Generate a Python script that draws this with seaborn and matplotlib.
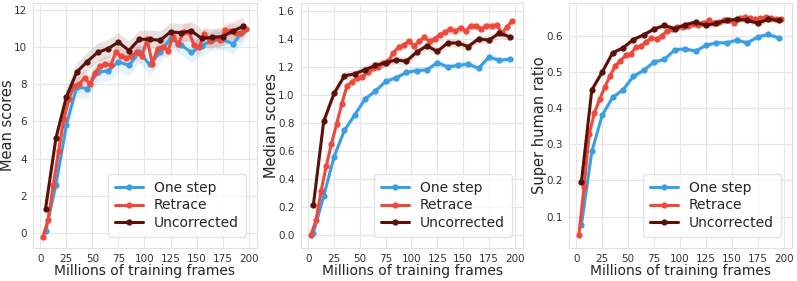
import matplotlib
matplotlib.use('Agg')
import matplotlib.pyplot as plt
import seaborn as sns
import numpy as np
import pandas as pd

# x positions (millions of frames)
x_sparse = [5, 15, 25, 35, 45, 55, 65, 75, 85, 95, 105, 115, 125, 135, 145, 155, 165, 175, 185, 195]
x_dense = [2.5, 7.5, 12.5, 17.5, 22.5, 27.5, 32.5, 37.5, 42.5, 47.5, 52.5, 57.5, 62.5, 67.5, 72.5,
           77.5, 82.5, 87.5, 92.5, 97.5, 102.5, 107.5, 112.5, 117.5, 122.5, 127.5, 132.5, 137.5,
           142.5, 147.5, 152.5, 157.5, 162.5, 167.5, 172.5, 177.5, 182.5, 187.5, 192.5, 197.5]

series_names = ['One step', 'Retrace', 'Uncorrected']

# mean scores
mean_onestep = [0.1, 2.6, 5.8, 7.85, 7.75, 8.65, 8.7, 9.2, 9.0, 9.7, 9.05, 9.7, 10.45, 10.1, 9.7,
                10.05, 10.35, 10.4, 10.15, 10.85]
mean_retrace = [-0.2, 0.7, 2.6, 4.4, 6.1, 7.2, 7.9, 8.0, 8.35, 8.0, 8.6, 8.95, 9.1, 9.0, 9.7, 9.5,
                9.4, 9.5, 9.7, 9.5, 10.4, 9.1, 9.9, 10.0, 9.8, 10.55, 10.15, 10.8, 10.8, 10.1, 10.0,
                10.7, 10.3, 10.45, 10.35, 10.9, 10.85, 10.75, 10.75, 10.95]
mean_uncorr = [1.3, 5.1, 7.3, 8.65, 9.2, 9.7, 9.9, 10.25, 9.8, 10.4, 10.4, 10.35, 10.8, 10.75, 10.85,
               10.45, 10.5, 10.55, 10.85, 11.1]

# median scores
median_onestep = [0.02, 0.28, 0.56, 0.747, 0.858, 0.971, 1.028, 1.096, 1.122, 1.16, 1.174, 1.178,
                  1.23, 1.20, 1.21, 1.22, 1.19, 1.27, 1.247, 1.254]
median_retrace = [0.0, 0.108, 0.318, 0.495, 0.653, 0.794, 0.936, 1.065, 1.093, 1.12, 1.13, 1.16,
                  1.19, 1.20, 1.225, 1.24, 1.30, 1.34, 1.355, 1.383, 1.35, 1.383, 1.41, 1.383, 1.40,
                  1.43, 1.447, 1.47, 1.455, 1.478, 1.455, 1.494, 1.49, 1.473, 1.494, 1.49, 1.50,
                  1.44, 1.485, 1.53]
median_uncorr = [0.216, 0.813, 1.011, 1.136, 1.15, 1.18, 1.21, 1.23, 1.25, 1.24, 1.305, 1.35, 1.31,
                 1.37, 1.37, 1.345, 1.40, 1.39, 1.44, 1.415]

# super human ratio
super_onestep = [0.077, 0.28, 0.38, 0.429, 0.45, 0.487, 0.504, 0.527, 0.534, 0.561, 0.563, 0.557,
                 0.573, 0.58, 0.58, 0.587, 0.58, 0.596, 0.603, 0.594]
super_retrace = [0.048, 0.182, 0.328, 0.386, 0.424, 0.458, 0.488, 0.516, 0.53, 0.545, 0.55, 0.568,
                 0.571, 0.582, 0.594, 0.59, 0.60, 0.612, 0.618, 0.624, 0.624, 0.627, 0.633, 0.63,
                 0.634, 0.642, 0.634, 0.638, 0.642, 0.642, 0.636, 0.648, 0.65, 0.648, 0.645, 0.648,
                 0.65, 0.648, 0.645, 0.645]
super_uncorr = [0.196, 0.45, 0.499, 0.552, 0.566, 0.589, 0.602, 0.618, 0.628, 0.619, 0.63, 0.637,
                0.628, 0.634, 0.642, 0.645, 0.642, 0.634, 0.645, 0.642]

# half-width of the shaded bands (one step, retrace, uncorrected)
mean_spread = [0.55, 0.45, 0.5]
median_spread = [0.025, 0.03, 0.03]
super_spread = [0.008, 0.008, 0.008]

colors = ['#3b9ee3', '#ec4a3c', '#5a1109']

sns.set_style('whitegrid', {'grid.color': '#e6e6e6', 'axes.edgecolor': '#e0e0e0'})
plt.rcParams['font.family'] = ['DejaVu Sans']

fig = plt.figure(figsize=(7.97, 2.81), dpi=100)
# axes boxes in pixels: left, right, and x of the y-label (pixels)
boxes = [(33, 257, 15), (301, 523, 279), (569, 792, 547)]
axes_h = 245
axes = [fig.add_axes([l / 797, 33 / 281, (r - l) / 797, axes_h / 281]) for l, r, _ in boxes]

panels = [
    ('Mean scores', [mean_onestep, mean_retrace, mean_uncorr], mean_spread, (-0.8, 12.35),
     [0, 2, 4, 6, 8, 10, 12], None),
    ('Median scores', [median_onestep, median_retrace, median_uncorr], median_spread, (-0.09, 1.655),
     [0.0, 0.2, 0.4, 0.6, 0.8, 1.0, 1.2, 1.4, 1.6], '{:.1f}'),
    ('Super human ratio', [super_onestep, super_retrace, super_uncorr], super_spread, (0.013, 0.69),
     [0.1, 0.2, 0.3, 0.4, 0.5, 0.6], '{:.1f}'),
]

for ax, box, (ylabel, vals, spread, ylim, yticks, fmt) in zip(axes, boxes, panels):
    xs = [x_sparse, x_dense, x_sparse]
    frames = []
    for name, x, v in zip(series_names, xs, vals):
        frames.append(pd.DataFrame({'frames': x, 'value': v, 'method': name}))
    df = pd.concat(frames, ignore_index=True)
    for name, x, v, s, c in zip(series_names, xs, vals, spread, colors):
        v = np.array(v)
        ax.fill_between(x, v - s, v + s, color=c, alpha=0.12, linewidth=0)
    sns.lineplot(data=df, x='frames', y='value', hue='method', palette=colors,
                 hue_order=series_names, marker='o', markersize=4.5, markeredgewidth=0,
                 linewidth=2.2, ax=ax, errorbar=None)
    ax.set_xlim(-7, 208)
    ax.set_ylim(*ylim)
    ax.set_xticks([0, 25, 50, 75, 100, 125, 150, 175, 200])
    ax.set_yticks(yticks)
    if fmt:
        ax.set_yticklabels([fmt.format(t) for t in yticks])
    ax.tick_params(labelsize=7.5, colors='#333333', pad=1)
    ax.set_xlabel('Millions of training frames', fontsize=10)
    ax.set_ylabel(ylabel, fontsize=10.5)
    # place labels where the reference has them
    ax.xaxis.set_label_coords(0.5, -16 / axes_h)
    ax.yaxis.set_label_coords((box[2] - box[0]) / (box[1] - box[0]), 0.5)
    leg = ax.legend(loc='lower right', fontsize=10, frameon=True, handlelength=2.0,
                    borderpad=0.5, labelspacing=0.25, borderaxespad=0.8)
    leg.get_frame().set_edgecolor('#dddddd')

fig.savefig('out.png', dpi=100)
